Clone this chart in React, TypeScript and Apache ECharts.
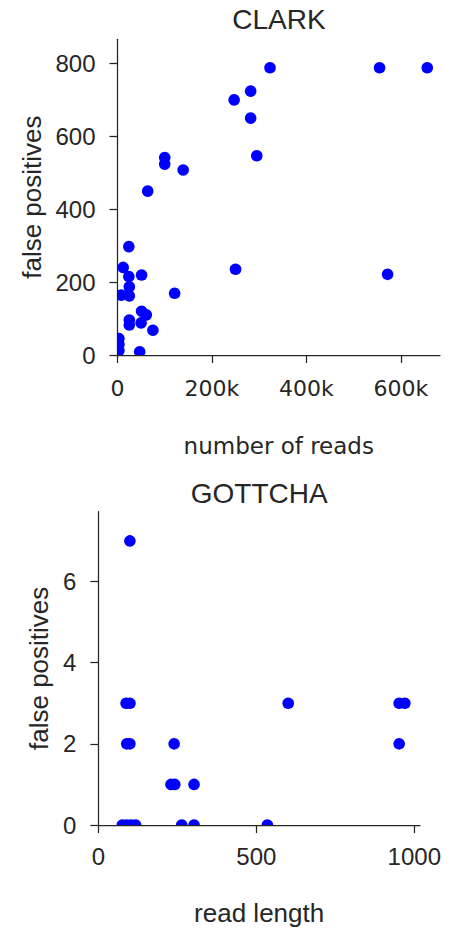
import React, { useEffect, useRef } from "react";
import * as echarts from "echarts";

// CLARK: number of reads vs. false positives
const clarkReads = [
  323000, 555000, 656000, 282000, 247000, 282000, 295000, 100000, 100000, 139000,
  64000, 24000, 12000, 250000, 572000, 24000, 51000, 25000, 121000, 8000,
  25000, 51000, 61000, 25000, 50000, 25000, 75000, 3000, 3000, 3000, 47000,
];
const clarkFalsePositives = [
  787, 787, 787, 723, 699, 649, 546, 541, 523, 507,
  449, 297, 240, 235, 221, 215, 219, 187, 169, 164,
  162, 120, 110, 96, 88, 82, 68, 45, 29, 12, 9,
];

// GOTTCHA: read length vs. false positives
const gottchaReadLength = [
  100, 88, 100, 601, 952, 970, 90, 100, 240, 952,
  230, 242, 303, 76, 90, 104, 118, 264, 303, 535,
];
const gottchaFalsePositives = [
  7, 3, 3, 3, 3, 3, 2, 2, 2, 2,
  1, 1, 1, 0, 0, 0, 0, 0, 0, 0,
];

const clarkXTicks = [0, 200000, 400000, 600000];
const clarkYTicks = [0, 200, 400, 600, 800];
const gottchaXTicks = [0, 500, 1000];
const gottchaYTicks = [0, 2, 4, 6];

const ARIAL = "'Liberation Sans', Arial, sans-serif";
const DEJAVU = "'DejaVu Sans', sans-serif";
const INK = "#262626";
const DOT = "#0000ff";

function axisBase(
  ticks: number[],
  font: string,
  size: number,
  margin: number,
  formatter: (v: number) => string
) {
  return {
    axisLine: { show: true, onZero: false, lineStyle: { color: INK, width: 1.25 } },
    axisTick: {
      show: true,
      inside: false,
      length: 8,
      lineStyle: { color: INK, width: 1.25 },
      customValues: ticks,
    },
    axisLabel: {
      color: INK,
      fontFamily: font,
      fontSize: size,
      margin,
      customValues: ticks,
      formatter,
    },
    splitLine: { show: false },
  };
}

const plain = (v: number) => String(v);
const thousands = (v: number) => (v === 0 ? "0" : `${Math.round(v / 1000)}k`);

function dotSeries(index: number, xs: number[], ys: number[]) {
  return {
    type: "custom",
    xAxisIndex: index,
    yAxisIndex: index,
    clip: true,
    data: xs.map((x, i) => [x, ys[i]]),
    encode: { x: 0, y: 1 },
    renderItem: (_params: any, api: any) => {
      const p = api.coord([api.value(0), api.value(1)]);
      return {
        type: "circle",
        shape: { cx: p[0], cy: p[1], r: 5.8 },
        style: { fill: DOT },
      };
    },
  };
}

export default function App() {
  const ref = useRef<HTMLDivElement>(null);

  useEffect(() => {
    if (!ref.current) return;
    const chart = echarts.init(ref.current, undefined, { renderer: "svg" });
    chart.setOption({
      animation: false,
      backgroundColor: "#ffffff",
      grid: [
        { left: 117.5, top: 39.3, width: 322.5, height: 315.7 },
        { left: 98.3, top: 511.7, width: 321.7, height: 313.3 },
      ],
      xAxis: [
        {
          gridIndex: 0,
          type: "value",
          min: 0,
          max: 683000,
          interval: 200000,
          ...axisBase(clarkXTicks, DEJAVU, 22, 22, thousands),
          name: "number of reads",
          nameLocation: "middle",
          nameGap: 79,
          nameTextStyle: { color: INK, fontFamily: DEJAVU, fontSize: 23 },
        },
        {
          gridIndex: 1,
          type: "value",
          min: 0,
          max: 1018,
          interval: 500,
          ...axisBase(gottchaXTicks, ARIAL, 24, 19, plain),
          name: "read length",
          nameLocation: "middle",
          nameGap: 75,
          nameTextStyle: { color: INK, fontFamily: ARIAL, fontSize: 26 },
        },
      ],
      yAxis: [
        {
          gridIndex: 0,
          type: "value",
          min: 0,
          max: 865,
          interval: 200,
          ...axisBase(clarkYTicks, ARIAL, 24, 22, plain),
          name: "false positives",
          nameLocation: "middle",
          nameGap: 73,
          nameTextStyle: { color: INK, fontFamily: ARIAL, fontSize: 26 },
        },
        {
          gridIndex: 1,
          type: "value",
          min: 0,
          max: 7.72,
          interval: 2,
          ...axisBase(gottchaYTicks, ARIAL, 24, 22, plain),
          name: "false positives",
          nameLocation: "middle",
          nameGap: 46,
          nameTextStyle: { color: INK, fontFamily: ARIAL, fontSize: 26 },
        },
      ],
      graphic: [
        {
          type: "text",
          x: 279,
          y: 19.3,
          style: {
            text: "CLARK",
            fill: INK,
            font: `28px ${ARIAL}`,
            textAlign: "center",
            textVerticalAlign: "middle",
          },
        },
        {
          type: "text",
          x: 259.2,
          y: 493,
          style: {
            text: "GOTTCHA",
            fill: INK,
            font: `28px ${ARIAL}`,
            textAlign: "center",
            textVerticalAlign: "middle",
          },
        },
      ],
      series: [
        dotSeries(0, clarkReads, clarkFalsePositives),
        dotSeries(1, gottchaReadLength, gottchaFalsePositives),
      ],
    });
    return () => chart.dispose();
  }, []);

  return (
    <div
      ref={ref}
      style={{ position: "absolute", left: 0, top: 0, width: 454, height: 928 }}
    />
  );
}
